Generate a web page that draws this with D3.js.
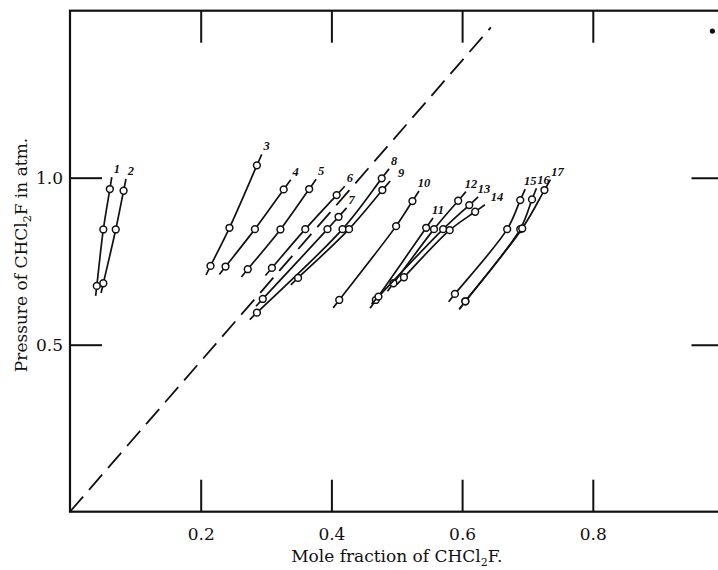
<!DOCTYPE html>
<html>
<head>
<meta charset="utf-8">
<script src="https://cdn.jsdelivr.net/npm/d3@7"></script>
<style>
    body { margin: 0; background: #fff; }
    svg { display: block; }
    .frame { fill: none; stroke: #111; stroke-width: 2.2; }
    .tick line { stroke: #111; stroke-width: 2; }
    .run { fill: none; stroke: #111; stroke-width: 1.7; }
    .pt { fill: #fff; stroke: #111; stroke-width: 1.5; }
    .ideal { fill: none; stroke: #111; stroke-width: 1.8; stroke-dasharray: 20, 9; }
    .runlbl { font-family: "Liberation Serif", serif; font-style: italic; font-weight: bold; font-size: 12.5px; fill: #111; }
    .ttl { font-family: "DejaVu Serif", serif; font-size: 17px; fill: #111; }
</style>
</head>
<body>
<div id="chart"></div>
<script>
// runs 1..17, each point read top (highest pressure) to bottom
var runLabels = ['1', '2', '3', '4', '5', '6', '7', '8', '9', '10', '11', '12', '13', '14', '15', '16', '17'];
var moleFraction = [
    [0.061, 0.051, 0.041],
    [0.082, 0.070, 0.051],
    [0.286, 0.244, 0.215],
    [0.327, 0.283, 0.238],
    [0.366, 0.322, 0.272],
    [0.408, 0.360, 0.309],
    [0.411, 0.394, 0.295],
    [0.477, 0.417, 0.286],
    [0.478, 0.427, 0.349],
    [0.524, 0.499, 0.412],
    [0.545, 0.468],
    [0.594, 0.557, 0.495],
    [0.611, 0.571, 0.472],
    [0.620, 0.581, 0.511],
    [0.689, 0.669, 0.589],
    [0.707, 0.689, 0.605],
    [0.726, 0.692, 0.605]
];
var pressure = [
    [0.966, 0.845, 0.676],
    [0.961, 0.845, 0.684],
    [1.037, 0.850, 0.736],
    [0.965, 0.846, 0.734],
    [0.966, 0.845, 0.726],
    [0.948, 0.846, 0.730],
    [0.883, 0.846, 0.637],
    [0.998, 0.846, 0.596],
    [0.963, 0.846, 0.700],
    [0.930, 0.855, 0.634],
    [0.850, 0.634],
    [0.931, 0.846, 0.684],
    [0.918, 0.846, 0.644],
    [0.898, 0.843, 0.702],
    [0.933, 0.846, 0.652],
    [0.935, 0.846, 0.630],
    [0.963, 0.848, 0.630]
];
var xTickValues = [0.2, 0.4, 0.6, 0.8];
var yTickValues = [0.5, 1.0];
// dashed ideal (Raoult) line
var idealX = [0, 0.644];
var idealP = [0, 1.45];
// speck in the top right corner of the scan
var speckX = [0.983];
var speckP = [1.439];

(function () {
    var W = 718, H = 570;
    var TICK = 32;

    var _x = d3.scaleLinear().domain([0, 1]).range([70, 723.5]);
    var _y = d3.scaleLinear().domain([0, 1.5]).range([511.7, 10.7]);

    var svg = d3.select("#chart").append("svg")
        .attr("width", W)
        .attr("height", H);

    //region frame and axes
    svg.append("rect")
        .attr("class", "frame")
        .attr("x", _x(0))
        .attr("y", _y(1.5))
        .attr("width", _x(1) - _x(0))
        .attr("height", _y(0) - _y(1.5));

    var _styleAxis = function (g) {
        g.select(".domain").remove();
        g.selectAll("text")
            .attr("font-family", "'DejaVu Serif', serif")
            .attr("font-size", 17)
            .attr("fill", "#111");
    };

    svg.append("g")
        .attr("transform", "translate(0," + _y(0) + ")")
        .call(d3.axisBottom(_x).tickValues(xTickValues).tickSize(-TICK).tickPadding(16).tickFormat(d3.format(".1f")))
        .call(_styleAxis);
    svg.append("g")
        .attr("transform", "translate(0," + _y(1.5) + ")")
        .call(d3.axisTop(_x).tickValues(xTickValues).tickSize(-TICK).tickFormat(""))
        .call(_styleAxis);
    svg.append("g")
        .attr("transform", "translate(" + _x(0) + ",0)")
        .call(d3.axisLeft(_y).tickValues(yTickValues).tickSize(-TICK).tickPadding(7).tickFormat(d3.format(".1f")))
        .call(_styleAxis);
    svg.append("g")
        .attr("transform", "translate(" + _x(1) + ",0)")
        .call(d3.axisRight(_y).tickValues(yTickValues).tickSize(-TICK).tickFormat(""))
        .call(_styleAxis);

    var xt = svg.append("text")
        .attr("class", "ttl")
        .attr("text-anchor", "middle")
        .attr("x", (_x(0) + _x(1)) / 2)
        .attr("y", 562);
    xt.append("tspan").text("Mole fraction of CHCl");
    xt.append("tspan").attr("font-size", 11).attr("dy", 4).text("2");
    xt.append("tspan").attr("dy", -4).text("F.");

    var yt = svg.append("text")
        .attr("class", "ttl")
        .attr("text-anchor", "middle")
        .attr("transform", "translate(27," + 255 + ") rotate(-90)");
    yt.append("tspan").text("Pressure of CHCl");
    yt.append("tspan").attr("font-size", 11).attr("dy", 4).text("2");
    yt.append("tspan").attr("dy", -4).text("F in atm.");
    //endregion

    //region ideal line + speck
    svg.append("path")
        .attr("class", "ideal")
        .attr("d", d3.line()(idealX.map(function (v, i) { return [_x(v), _y(idealP[i])]; })));

    svg.selectAll(".speck").data(speckX).enter().append("circle")
        .attr("class", "speck")
        .attr("cx", function (d) { return _x(d); })
        .attr("cy", function (d, i) { return _y(speckP[i]); })
        .attr("r", 2.6)
        .attr("fill", "#111");
    //endregion

    //region runs
    var _extend = function (a, b, len) { // push point b further away from a
        var dx = b[0] - a[0], dy = b[1] - a[1];
        var d = Math.sqrt(dx * dx + dy * dy) || 1;
        return [b[0] + dx / d * len, b[1] + dy / d * len];
    };
    var _hits = function (a, b) {
        return a.x < b.x + b.width && b.x < a.x + a.width && a.y < b.y + b.height && b.y < a.y + a.height;
    };
    var line = d3.line().curve(d3.curveCatmullRom.alpha(0.5));
    var placed = []; // label boxes already drawn

    runLabels.forEach(function (lbl, i) {
        var pts = moleFraction[i].map(function (v, k) { return [_x(v), _y(pressure[i][k])]; });
        var n = pts.length;
        var top = _extend(pts[1], pts[0], 12);
        var bot = _extend(pts[n - 2], pts[n - 1], 10);
        var path = [top].concat(pts).concat([bot]);

        svg.append("path")
            .attr("class", "run")
            .attr("d", line(path));

        svg.selectAll(".pt" + i).data(pts).enter().append("circle")
            .attr("class", "pt")
            .attr("cx", function (d) { return d[0]; })
            .attr("cy", function (d) { return d[1]; })
            .attr("r", 3.4);

        var t = svg.append("text")
            .attr("class", "runlbl")
            .attr("text-anchor", "middle")
            .attr("x", top[0] + 5)
            .attr("y", top[1] - 4)
            .text(lbl);
        // nudge right until it clears the labels before it
        var lx = top[0] + 5, tries = 0;
        var box = t.node().getBBox();
        while (tries < 25 && placed.some(function (b) { return _hits(box, b); })) {
            lx += 1;
            t.attr("x", lx);
            box = t.node().getBBox();
            tries++;
        }
        placed.push(box);
    });
    //endregion
})();
</script>
</body>
</html>
